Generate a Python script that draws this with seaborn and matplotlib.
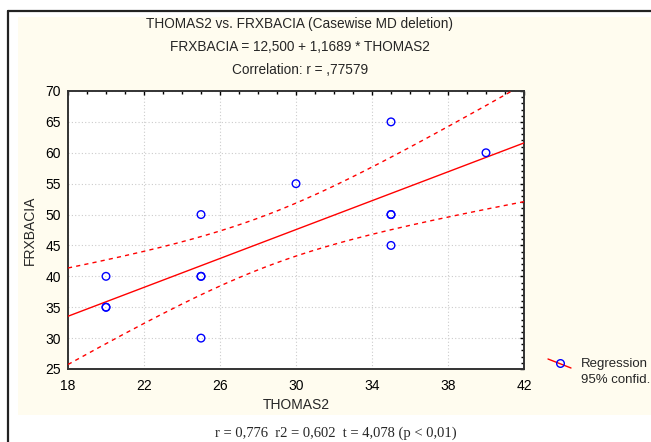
import numpy as np
import pandas as pd
import seaborn as sns
import matplotlib
matplotlib.use("Agg")
import matplotlib.pyplot as plt
from matplotlib.lines import Line2D
from matplotlib.patches import Rectangle

# ---- data ----
thomas2 = [20, 20, 20, 25, 25, 25, 25, 30, 35, 35, 35, 35, 40]
frxbacia = [40, 35, 35, 50, 40, 40, 30, 55, 65, 50, 50, 45, 60]
intercept = 12.5
slope = 1.1689
t_crit = 2.201  # t(0.975, df=11)

title_lines = ["THOMAS2 vs. FRXBACIA (Casewise MD deletion)",
               "FRXBACIA = 12,500 + 1,1689 * THOMAS2",
               "Correlation: r = ,77579"]
caption = "r = 0,776  r2 = 0,602  t = 4,078 (p < 0,01)"
x_ticks = [18, 22, 26, 30, 34, 38, 42]
y_ticks = [25, 30, 35, 40, 45, 50, 55, 60, 65, 70]

df = pd.DataFrame({"THOMAS2": thomas2, "FRXBACIA": frxbacia})

sns.set_style("white")
plt.rcParams["font.family"] = ["Liberation Sans", "DejaVu Sans"]

W, H = 651, 442
fig = plt.figure(figsize=(W / 100, H / 100), dpi=100)
fig.patch.set_facecolor("white")

def fx(px):
    return px / W

def fy(py):
    return 1 - py / H

# cream panel and frame
fig.add_artist(Rectangle((fx(18), fy(415)), 1 - fx(18), fy(17) - fy(415),
                         transform=fig.transFigure, facecolor="#fffcef",
                         edgecolor="none", zorder=0))
fig.add_artist(Line2D([fx(8), fx(8)], [0, fy(11)], transform=fig.transFigure,
                      color="#222222", lw=1.6))
fig.add_artist(Line2D([fx(8), 1], [fy(11), fy(11)], transform=fig.transFigure,
                      color="#222222", lw=1.6))

ax = fig.add_axes([fx(68), fy(369), fx(524) - fx(68), fy(91) - fy(369)])
ax.set_facecolor("white")

# regression line and 95% confidence band
x = np.asarray(thomas2, float)
y = np.asarray(frxbacia, float)
n = len(x)
xs = np.linspace(18, 42, 200)
yhat = intercept + slope * xs
resid = y - (intercept + slope * x)
s = np.sqrt(np.sum(resid ** 2) / (n - 2))
sxx = np.sum((x - x.mean()) ** 2)
half = t_crit * s * np.sqrt(1 / n + (xs - x.mean()) ** 2 / sxx)
sns.lineplot(x=xs, y=yhat, ax=ax, color="red", lw=1.0, zorder=3)
sns.lineplot(x=xs, y=yhat + half, ax=ax, color="red", lw=1.0,
             linestyle=(0, (3, 3)), zorder=3)
sns.lineplot(x=xs, y=yhat - half, ax=ax, color="red", lw=1.0,
             linestyle=(0, (3, 3)), zorder=3)

sns.scatterplot(data=df, x="THOMAS2", y="FRXBACIA", ax=ax, marker="o",
                s=30, facecolor="none", edgecolor="blue", linewidth=1.0,
                zorder=4)

ax.set_xlim(18, 42)
ax.set_ylim(25, 70)
ax.set_xticks(x_ticks)
ax.set_yticks(y_ticks)
ax.set_xticks(np.arange(18, 43, 1), minor=True)
ax.set_yticks(np.arange(25, 71, 1), minor=True)
ax.grid(True, which="major", color="#cccccc", linestyle=(0, (1, 2)), lw=0.8)
ax.tick_params(which="both", direction="in", top=True, right=True,
               colors="black", labelsize=10)
ax.tick_params(axis="y", pad=5)
ax.tick_params(axis="x", pad=7)
ax.tick_params(which="major", length=3, width=1)
ax.tick_params(which="minor", length=2, width=1)
for sp in ax.spines.values():
    sp.set_color("#333333")
    sp.set_linewidth(1.4)
ax.set_xlabel("")
ax.set_ylabel("")

# axis titles
fig.text(fx(296), fy(405), "THOMAS2", ha="center", va="center", fontsize=10)
fig.text(fx(30), fy(230), "FRXBACIA", ha="center", va="center",
         rotation=90, fontsize=10)

# chart titles
for txt, py in zip(title_lines, [24, 47, 70]):
    fig.text(fx(300), fy(py), txt, ha="center", va="center", fontsize=9.8)

# legend
fig.add_artist(Line2D([fx(548), fx(571)], [fy(359), fy(368)],
                      transform=fig.transFigure, color="red", lw=1.0))
fig.add_artist(Line2D([fx(560)], [fy(363)], transform=fig.transFigure,
                      marker="o", markersize=5.5, markerfacecolor="none",
                      markeredgecolor="blue", linestyle="none"))
fig.text(fx(581), fy(364), "Regression", ha="left", va="center", fontsize=9.5)
fig.text(fx(581), fy(380), "95% confid.", ha="left", va="center", fontsize=9.5)

# caption
fig.text(fx(336), fy(433), caption, ha="center", va="center", fontsize=10.5,
         family=["Liberation Serif", "DejaVu Serif"])

fig.savefig("out.png", dpi=100)
